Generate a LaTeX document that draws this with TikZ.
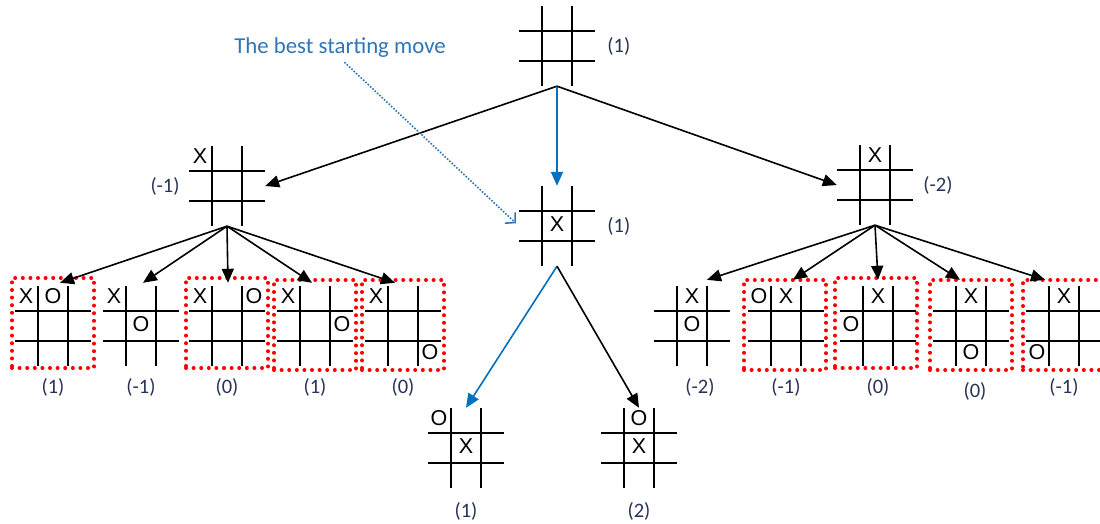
\documentclass[tikz,border=0pt]{standalone}
\usepackage{fontspec}
\setmainfont{Carlito}
\newfontfamily\markfont{Liberation Sans}
\usepackage{tikz}
\usetikzlibrary{positioning, arrows.meta}
\tikzstyle{move} = [line width=1.6pt, -{Triangle[length=14pt,width=12pt]}]

\definecolor{bestblue}{RGB}{0,112,192}
\definecolor{noteblue}{RGB}{46,117,182}
\definecolor{valcol}{RGB}{38,50,86}

% X or O in a cell: board, column, row, letter
\newcommand{\putxo}[4]{\node[xo] (#1#4) at ([shift={(27*#2,28*#3-2)}]#1) {#4};}

\begin{document}
\begin{tikzpicture}[
        x=1pt, y=-1pt,
        % Styles
        board/.style={% For the tic-tac-toe grids
            minimum width=76pt,
            minimum height=80pt,
            inner sep=0pt,
            path picture={
                \draw[line width=2.8pt]
                    ([xshift=-15pt]path picture bounding box.north) -- ([xshift=-15pt]path picture bounding box.south)
                    ([xshift=15pt]path picture bounding box.north) -- ([xshift=15pt]path picture bounding box.south)
                    ([yshift=15pt]path picture bounding box.west) -- ([yshift=15pt]path picture bounding box.east)
                    ([yshift=-15pt]path picture bounding box.west) -- ([yshift=-15pt]path picture bounding box.east);
                },
            },
        xo/.style={% For the X and O marks
            font=\markfont\fontsize{21.5}{24}\selectfont,
            inner sep=0pt,
            },
        picked/.style={% For the red dotted boxes
            draw=red,
            line width=4pt,
            dash pattern=on 0pt off 7.6pt,
            line cap=round,
            minimum width=82pt,
            minimum height=90pt,
            },
        val/.style={% For the minimax values
            font=\fontsize{20.5}{23}\selectfont,
            text=valcol,
            inner sep=0pt,
            },
        notetext/.style={% For the comment
            font=\fontsize{22.8}{26}\selectfont,
            text=noteblue,
            inner sep=0pt,
            },
        best/.style={% Arrows of the best line
            move,
            draw=bestblue,
            fill=bestblue,
            },
        notearrow/.style={% Dotted arrow of the comment
            dash pattern=on 1.6pt off 1.6pt,
            line width=1.6pt,
            noteblue,
            -{Straight Barb[length=7pt,width=15pt,line width=1.6pt]},
            },
        ]

    \useasboundingbox (0,0) rectangle (1100,524);

    % Nodes
        % Red boxes first, grids on top
        \node[picked] (c1box) at ([shift={(0,-3)}]53,326) {};
        \node[picked] (c3box) at ([shift={(0,-3)}]227,326) {};
        \node[picked] (c4box) at ([shift={(0,-1)}]315,326) {};
        \node[picked] (c5box) at ([shift={(0,-1)}]403,326) {};
        \node[picked] (e2box) at ([shift={(-1,-1)}]786,326) {};
        \node[picked] (e3box) at ([shift={(-2,-3)}]878,326) {};
        \node[picked] (e4box) at ([shift={(0,-1)}]971,326) {};
        \node[picked, minimum width=94pt] (e5box) at ([shift={(6,-1)}]1064,326) {};

        % Root and the first moves
        \node[board] (root) at (557,46) {};
        \node[board] (corner) at (227,186) {};
        \node[board] (center) at (557,226) {};
        \node[board] (edge) at (875,185) {};

        % Replies to the corner move
        \node[board] (c1) at (53,326) {};
        \node[board] (c2) at (141,326) {};
        \node[board] (c3) at (227,326) {};
        \node[board] (c4) at (315,326) {};
        \node[board] (c5) at (403,326) {};

        % Replies to the edge move
        \node[board] (e1) at (692,326) {};
        \node[board] (e2) at (786,326) {};
        \node[board] (e3) at (878,326) {};
        \node[board] (e4) at (971,326) {};
        \node[board] (e5) at (1064,326) {};

        % Replies to the centre move
        \node[board] (m1) at (466,448) {};
        \node[board] (m2) at (639,448) {};

        % Marks
        \putxo{corner}{-1}{-1}{X}
        \putxo{center}{0}{0}{X}
        \putxo{edge}{0}{-1}{X}
        \putxo{c1}{-1}{-1}{X} \putxo{c1}{0}{-1}{O}
        \putxo{c2}{-1}{-1}{X} \putxo{c2}{0}{0}{O}
        \putxo{c3}{-1}{-1}{X} \putxo{c3}{1}{-1}{O}
        \putxo{c4}{-1}{-1}{X} \putxo{c4}{1}{0}{O}
        \putxo{c5}{-1}{-1}{X} \putxo{c5}{1}{1}{O}
        \putxo{e1}{0}{-1}{X} \putxo{e1}{0}{0}{O}
        \putxo{e2}{0}{-1}{X} \putxo{e2}{-1}{-1}{O}
        \putxo{e3}{0}{-1}{X} \putxo{e3}{-1}{0}{O}
        \putxo{e4}{0}{-1}{X} \putxo{e4}{0}{1}{O}
        \putxo{e5}{0}{-1}{X} \putxo{e5}{-1}{1}{O}
        \putxo{m1}{0}{0}{X} \putxo{m1}{-1}{-1}{O}
        \putxo{m2}{0}{0}{X} \putxo{m2}{0}{-1}{O}

        % Values
        \node[val, right=12pt of root] (vroot) {(1)};
        \node[val, left=9pt of corner] (vcorner) {(-1)};
        \node[val, right=12pt of center] (vcenter) {(1)};
        \node[val, right=10pt of edge] (vedge) {(-2)};
        \node[val, below=12pt of c1] (vc1) {(1)};
        \node[val, below=12pt of c2] (vc2) {(-1)};
        \node[val, below=12pt of c3] (vc3) {(0)};
        \node[val, below=12pt of c4] (vc4) {(1)};
        \node[val, below=12pt of c5] (vc5) {(0)};
        \node[val, below=12pt of e1, xshift=8pt] (ve1) {(-2)};
        \node[val, below=12pt of e2] (ve2) {(-1)};
        \node[val, below=12pt of e3] (ve3) {(0)};
        \node[val, below=16pt of e4, xshift=4pt] (ve4) {(0)};
        \node[val, below=12pt of e5] (ve5) {(-1)};
        \node[val, below=14pt of m1] (vm1) {(1)};
        \node[val, below=14pt of m2] (vm2) {(2)};

        % Comment
        \node[notetext] (note) at (340,48) {The best starting move};

    % Connect all
        \draw[move] (root.south) -- (corner.east);
        \draw[best] (root.south) -- (center.north);
        \draw[move] (root.south) -- (edge.west);

        \foreach \k/\dx in {1/7,2/2,3/1,4/-3,5/-8}
            \draw[move] (corner.south) -- ([xshift=\dx pt, yshift=3pt]c\k.north);
        \foreach \k/\dx in {1/15,2/7,3/0,4/-11,5/-19}
            \draw[move] (edge.south) -- ([xshift=\dx pt, yshift=6pt]e\k.north);

        \draw[best] (center.south) -- (m1.north);
        \draw[move] (center.south) -- (m2.north);

        \draw[notearrow, shorten <=6pt, shorten >=4pt] (note.south) -- (center.west);

\end{tikzpicture}
\end{document}
